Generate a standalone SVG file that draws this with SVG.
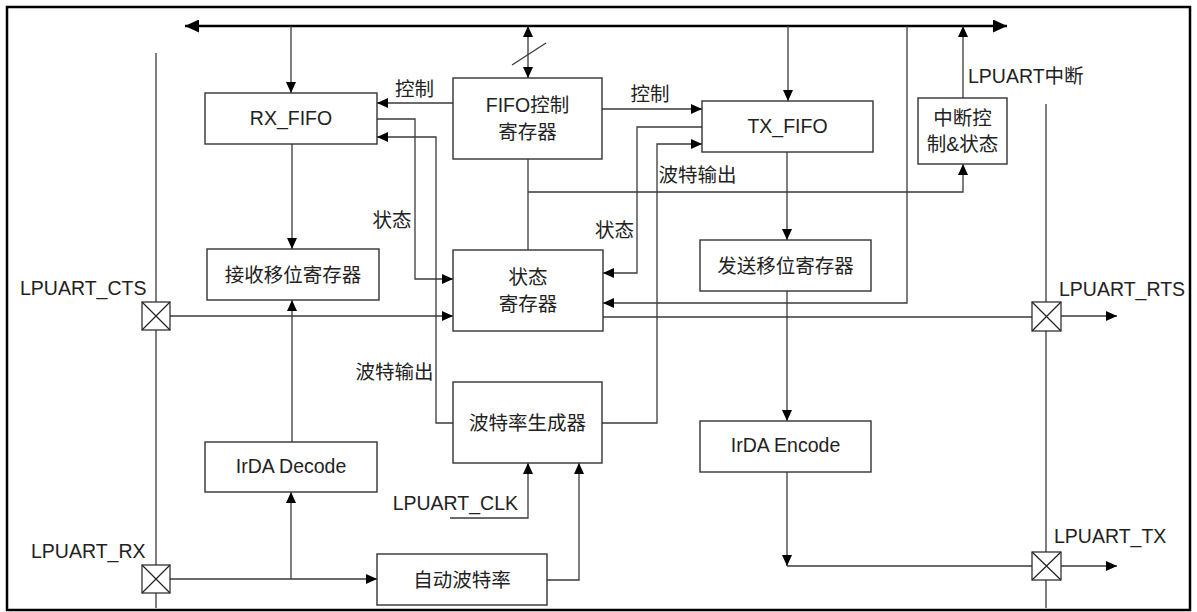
<svg xmlns="http://www.w3.org/2000/svg" width="1197" height="612" viewBox="0 0 1197 612">
<style>
.box{fill:#fff;stroke:#333;stroke-width:1.4}
.ln{fill:none;stroke:#3a3a3a;stroke-width:1.3}
.arr{marker-end:url(#ah)}
.pin{fill:#fff;stroke:#222;stroke-width:1.2}
text{font-family:"Liberation Sans","Noto Sans CJK SC",sans-serif;font-size:19.5px;fill:#222}
.m{text-anchor:middle}
.e{text-anchor:end}
</style>
<defs>
<marker id="ah" viewBox="0 0 11 10" refX="11" refY="5" markerWidth="11" markerHeight="10" markerUnits="userSpaceOnUse" orient="auto-start-reverse"><path d="M0,0 L11,5 L0,10 z" fill="#000"/></marker>
<marker id="bh" viewBox="0 0 14 13" refX="14" refY="6.5" markerWidth="14" markerHeight="13" markerUnits="userSpaceOnUse" orient="auto-start-reverse"><path d="M0,0 L14,6.5 L0,13 z" fill="#000"/></marker>
</defs>
<rect x="7" y="7" width="1183" height="603" fill="#fff" stroke="#000" stroke-width="2.5"/>
<g id="connectors">
<line x1="156" y1="53" x2="156" y2="608" class="ln"/>
<line x1="1046" y1="104" x2="1046" y2="608" class="ln"/>
<line x1="185" y1="26" x2="1007" y2="26" stroke="#000" stroke-width="2.5" marker-start="url(#bh)" marker-end="url(#bh)"/>
<line x1="291" y1="26" x2="291" y2="93" class="ln arr"/>
<line x1="528" y1="26" x2="528" y2="78" class="ln arr" marker-start="url(#ah)"/>
<line x1="512" y1="65" x2="546" y2="43" class="ln"/>
<line x1="788" y1="26" x2="788" y2="101" class="ln arr"/>
<line x1="963" y1="98" x2="963" y2="26" class="ln arr"/>
<path d="M907,26 V303 H603" class="ln arr"/>
<line x1="453" y1="103" x2="377" y2="103" class="ln arr"/>
<line x1="602" y1="109" x2="702" y2="109" class="ln arr"/>
<path d="M377,119 H415 V279 H453" class="ln arr"/>
<path d="M453,423 H436 V137 H377" class="ln arr"/>
<line x1="170" y1="316" x2="453" y2="316" class="ln arr"/>
<line x1="603" y1="317" x2="1032" y2="317" class="ln"/>
<line x1="1061" y1="316" x2="1117" y2="316" class="ln arr"/>
<path d="M702,127 H637 V273 H603" class="ln arr"/>
<path d="M602,423 H657 V144 H702" class="ln arr"/>
<line x1="528" y1="159" x2="528" y2="250" class="ln"/>
<path d="M528,192 H963 V164" class="ln arr"/>
<line x1="292" y1="144" x2="292" y2="249" class="ln arr"/>
<line x1="292" y1="442" x2="292" y2="300" class="ln arr"/>
<line x1="170" y1="579" x2="377" y2="579" class="ln arr"/>
<line x1="291" y1="579" x2="291" y2="492" class="ln arr"/>
<path d="M547,580 H579 V463" class="ln arr"/>
<path d="M450,518 H528 V463" class="ln arr"/>
<line x1="787" y1="152" x2="787" y2="240" class="ln arr"/>
<line x1="787" y1="291" x2="787" y2="421" class="ln arr"/>
<line x1="787" y1="472" x2="787" y2="566" class="ln arr"/>
<line x1="787" y1="566" x2="1032" y2="566" class="ln"/>
<line x1="1061" y1="566" x2="1117" y2="566" class="ln arr"/>
</g>
<g id="rx_fifo"><rect x="205" y="93" width="172" height="51" class="box"/><text x="291" y="125" class="m">RX_FIFO</text></g>
<g id="fifo_ctrl"><rect x="453" y="78" width="149" height="81" class="box"/><text x="527.5" y="112" class="m">FIFO控制</text><text x="527.5" y="139" class="m">寄存器</text></g>
<g id="tx_fifo"><rect x="702" y="101" width="171" height="51" class="box"/><text x="787.5" y="133" class="m">TX_FIFO</text></g>
<g id="int_ctrl"><rect x="918" y="98" width="89" height="66" class="box"/><text x="962.5" y="125" class="m">中断控</text><text x="962.5" y="151" class="m">制&amp;状态</text></g>
<g id="rx_shift"><rect x="207" y="249" width="172" height="51" class="box"/><text x="293" y="281.5" class="m">接收移位寄存器</text></g>
<g id="status_reg"><rect x="453" y="250" width="150" height="81" class="box"/><text x="528" y="283.5" class="m">状态</text><text x="528" y="311" class="m">寄存器</text></g>
<g id="tx_shift"><rect x="700" y="240" width="171" height="51" class="box"/><text x="785.5" y="272.5" class="m">发送移位寄存器</text></g>
<g id="baud_gen"><rect x="453" y="382" width="149" height="81" class="box"/><text x="527.5" y="430" class="m">波特率生成器</text></g>
<g id="irda_dec"><rect x="205" y="442" width="172" height="50" class="box"/><text x="291" y="473" class="m">IrDA Decode</text></g>
<g id="irda_enc"><rect x="700" y="421" width="171" height="51" class="box"/><text x="785.5" y="452" class="m">IrDA Encode</text></g>
<g id="auto_baud"><rect x="377" y="554" width="170" height="51" class="box"/><text x="462" y="586.5" class="m">自动波特率</text></g>
<g id="pin_cts"><rect x="142" y="302" width="28" height="28" class="pin"/><path d="M142,302 L170,330 M170,302 L142,330" class="pin"/><text x="20" y="295">LPUART_CTS</text></g>
<g id="pin_rx"><rect x="142" y="565" width="28" height="28" class="pin"/><path d="M142,565 L170,593 M170,565 L142,593" class="pin"/><text x="31" y="558">LPUART_RX</text></g>
<g id="pin_rts"><rect x="1032" y="302" width="29" height="29" class="pin"/><path d="M1032,302 L1061,331 M1061,302 L1032,331" class="pin"/><text x="1059" y="296">LPUART_RTS</text></g>
<g id="pin_tx"><rect x="1032" y="552" width="29" height="28" class="pin"/><path d="M1032,552 L1061,580 M1061,552 L1032,580" class="pin"/><text x="1054" y="543">LPUART_TX</text></g>
<g id="labels">
<text x="414.5" y="95.5" class="m">控制</text>
<text x="650" y="101" class="m">控制</text>
<text x="392" y="227" class="m">状态</text>
<text x="614.5" y="236.5" class="m">状态</text>
<text x="394.5" y="379" class="m">波特输出</text>
<text x="697.5" y="181.5" class="m">波特输出</text>
<text x="968" y="83">LPUART中断</text>
<text x="518" y="510" class="e">LPUART_CLK</text>
</g>
</svg>
